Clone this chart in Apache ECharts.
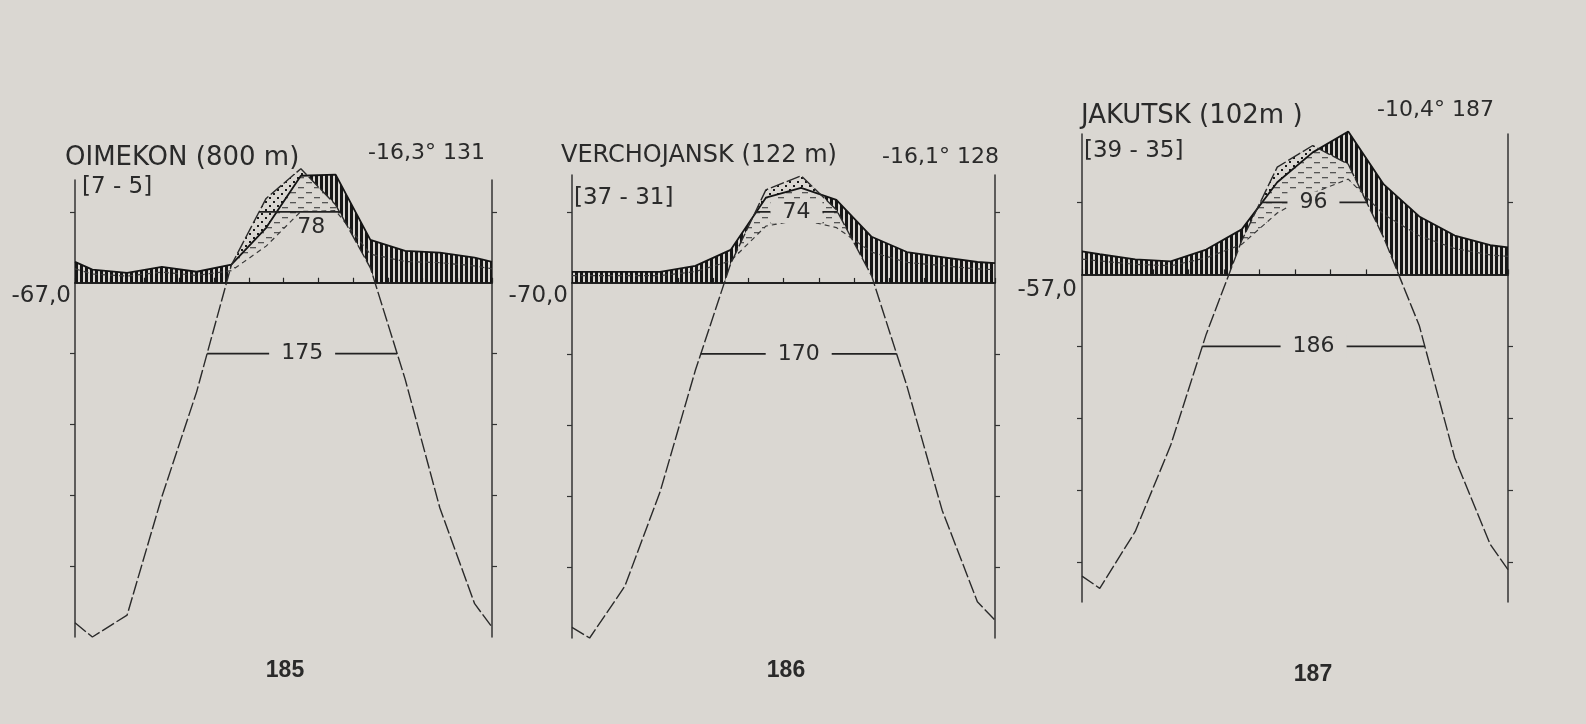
<!DOCTYPE html>
<html><head><meta charset="utf-8">
<script src="https://cdn.jsdelivr.net/npm/echarts@6/dist/echarts.min.js"></script>
<style>html,body{margin:0;padding:0;background:#dad7d2;}#c{width:1586px;height:724px;}</style>
</head><body><div id="c"></div>
<script>
// ---------- data ----------
// x positions in months: chart edges (0, 12) and month middles (Jan..Dec)
const MONTH_X = [0, 0.5, 1.5, 2.5, 3.5, 4.5, 5.5, 6.5, 7.5, 8.5, 9.5, 10.5, 11.5, 12];
// mean temperature, °C
const OIM_T = [-48.0, -50.0, -46.9, -30.2, -15.4, 2.5, 11.9, 16.1, 11.0, 2.1, -13.6, -31.8, -45.3, -48.6];
const VER_T = [-48.5, -50.0, -42.7, -29.4, -12.3, 2.7, 13.1, 15.1, 10.3, 1.0, -14.5, -32.0, -44.9, -47.5];
const JAK_T = [-41.9, -43.6, -35.7, -23.7, -8.3, 4.7, 14.9, 17.9, 15.3, 5.1, -7.1, -25.5, -37.5, -41.0];
// precipitation, mm
const OIM_P = [5.9, 3.7, 2.8, 4.5, 3.1, 5.1, 15.5, 30.2, 30.5, 12.1, 9.0, 8.5, 7.1, 5.9];
const VER_P = [3.1, 3.1, 3.1, 3.1, 4.8, 9.3, 24.0, 26.8, 23.4, 13.0, 8.7, 7.3, 5.9, 5.6];
const JAK_P = [6.4, 5.6, 4.2, 3.6, 6.9, 12.5, 25.6, 33.9, 39.7, 25.0, 16.1, 10.8, 8.1, 7.5];
// texts
const TITLES = ['OIMEKON (800 m)', 'VERCHOJANSK (122 m)', 'JAKUTSK (102m )'];
const YEARS = ['[7 - 5]', '[37 - 31]', '[39 - 35]'];
const ANNUAL = ['-16,3° 131', '-16,1° 128', '-10,4° 187'];
const ABS_MIN = ['-67,0', '-70,0', '-57,0'];
const FIG_NO = ['185', '186', '187'];
const DAYS_ABOVE_10 = ['78', '74', '96'];
const DAYS_ABOVE_M10 = ['175', '170', '186'];
const TICK_T = [-40, -30, -20, -10, 10];
// Walter scales: 10 °C = 20 mm, supplementary curve 10 °C = 30 mm
const MM_PER_DEG = 2, MM_PER_DEG_RED = 3;

const TEMPS = [OIM_T, VER_T, JAK_T];
const PRECS = [OIM_P, VER_P, JAK_P];

// ---------- layout / style ----------
const BG = '#dad7d2', INK = '#222';
const LAYOUT = [
  {left: 75, top: 180, width: 417, height: 457, tMin: -50, tMax: 14.5, titleSize: 26,
   title: [65, 158], years: [82, 187], annual: [368, 153], absMin: [71, 296], fig: [285, 671], warmBelow: true},
  {left: 572, top: 175, width: 423, height: 463, tMin: -50, tMax: 15.2, titleSize: 24,
   title: [561, 156], years: [574, 198], annual: [882, 157], absMin: [568, 296], fig: [786, 671], warmBelow: false},
  {left: 1082, top: 134, width: 426, height: 468, tMin: -45.5, tMax: 19.5, titleSize: 26,
   title: [1081, 116], years: [1084, 151], annual: [1377, 110], absMin: [1077, 290], fig: [1313, 675], warmBelow: false}
];

function mkCanvas(w, h, draw) {
  const c = document.createElement('canvas'); c.width = w; c.height = h; draw(c.getContext('2d')); return c;
}
const HATCH = {image: mkCanvas(5, 4, g => { g.fillStyle = '#161616'; g.fillRect(0, 0, 3, 4); }), repeat: 'repeat'};
const DOTS = {image: mkCanvas(8, 8, g => {
  g.fillStyle = BG; g.fillRect(0, 0, 8, 8); g.fillStyle = '#1a1a1a';
  g.fillRect(1, 1, 2, 2); g.fillRect(5, 5, 2, 2);
}), repeat: 'repeat'};
const DASHES = {image: mkCanvas(16, 10, g => {
  g.fillStyle = '#555'; g.fillRect(2, 2, 6, 1.3); g.fillRect(10, 7, 6, 1.3);
}), repeat: 'repeat'};

// regions where hi > lo, as polygons in data space
function bands(xs, lo, hi) {
  const polys = []; let cur = null;
  for (let i = 0; i < xs.length; i++) {
    const d = hi[i] - lo[i];
    if (i > 0) {
      const dp = hi[i - 1] - lo[i - 1];
      if ((dp > 0) !== (d > 0) && dp !== d) {
        const t = dp / (dp - d);
        const x = xs[i - 1] + t * (xs[i] - xs[i - 1]);
        const y = lo[i - 1] + t * (lo[i] - lo[i - 1]);
        if (cur) { cur.push({x, lo: y, hi: y}); polys.push(cur); cur = null; }
        else cur = [{x, lo: y, hi: y}];
      }
    }
    if (d > 0) { if (!cur) cur = []; cur.push({x: xs[i], lo: lo[i], hi: hi[i]}); }
  }
  if (cur) polys.push(cur);
  return polys.map(s => s.map(p => [p.x, p.hi]).concat(s.slice().reverse().map(p => [p.x, p.lo])));
}
function clipAbove(poly, y0) {
  const out = [];
  for (let i = 0; i < poly.length; i++) {
    const a = poly[i], b = poly[(i + 1) % poly.length];
    const ain = a[1] >= y0, bin = b[1] >= y0;
    if (ain) out.push(a);
    if (ain !== bin) { const t = (y0 - a[1]) / (b[1] - a[1]); out.push([a[0] + t * (b[0] - a[0]), y0]); }
  }
  return out;
}
function crossings(xs, ys, L) {
  const r = [];
  for (let i = 1; i < xs.length; i++) {
    if ((ys[i - 1] - L) * (ys[i] - L) < 0)
      r.push(xs[i - 1] + (L - ys[i - 1]) / (ys[i] - ys[i - 1]) * (xs[i] - xs[i - 1]));
  }
  return r;
}
const zip = (xs, ys) => xs.map((x, i) => [x, ys[i]]);

const grids = [], xAxes = [], yAxes = [], series = [], graphics = [];
const TXT = "'DejaVu Sans', sans-serif";

LAYOUT.forEach((L, k) => {
  const T = TEMPS[k], P = PRECS[k];
  grids.push({left: L.left, top: L.top, width: L.width, height: L.height});
  xAxes.push({type: 'value', gridIndex: k, min: 0, max: 12, interval: 1,
    axisLine: {onZero: true, onZeroAxisIndex: 3 * k, lineStyle: {color: INK, width: 2}},
    axisTick: {inside: true, length: 5, lineStyle: {color: INK, width: 1.2}},
    axisLabel: {show: false}, splitLine: {show: false}});
  const yBase = {type: 'value', gridIndex: k, axisLabel: {show: false}, splitLine: {show: false}};
  yAxes.push(Object.assign({}, yBase, {position: 'left', min: L.tMin, max: L.tMax,
    axisLine: {show: true, onZero: false, lineStyle: {color: '#333', width: 1.5}},
    axisTick: {show: true, customValues: TICK_T, length: 5, lineStyle: {color: '#333', width: 1.2}}}));
  yAxes.push(Object.assign({}, yBase, {position: 'right', min: L.tMin * MM_PER_DEG, max: L.tMax * MM_PER_DEG,
    axisLine: {show: true, onZero: false, lineStyle: {color: '#333', width: 1.5}},
    axisTick: {show: true, customValues: TICK_T.map(v => v * MM_PER_DEG), length: 5, lineStyle: {color: '#333', width: 1.2}}}));
  yAxes.push(Object.assign({}, yBase, {show: false, min: L.tMin * MM_PER_DEG_RED, max: L.tMax * MM_PER_DEG_RED}));

  const Pt = P.map(v => v / MM_PER_DEG);
  const Pr = P.map(v => v / MM_PER_DEG_RED);
  const dashPolys = bands(MONTH_X, Pr, T);
  const hatchPolys = bands(MONTH_X, T, Pt).map(p => clipAbove(p, 0)).filter(p => p.length > 2);
  const dotPolys = bands(MONTH_X, Pt, T);

  series.push({type: 'custom', coordinateSystem: 'cartesian2d', xAxisIndex: k, yAxisIndex: 3 * k,
    data: [[0, 0]], clip: false, silent: true, z: 2,
    renderItem: (params, api) => {
      const px = poly => poly.map(p => api.coord(p));
      const ch = [];
      dashPolys.forEach(p => ch.push({type: 'polygon', shape: {points: px(p)}, style: {fill: DASHES}}));
      hatchPolys.forEach(p => ch.push({type: 'polygon', shape: {points: px(p)}, style: {fill: HATCH}}));
      dotPolys.forEach(p => ch.push({type: 'polygon', shape: {points: px(p)}, style: {fill: DOTS}}));
      return {type: 'group', children: ch};
    }});
  series.push({type: 'line', xAxisIndex: k, yAxisIndex: 3 * k + 2, data: zip(MONTH_X, P),
    showSymbol: false, silent: true, clip: false, z: 3,
    lineStyle: {color: '#3a3a3a', width: 1.2, type: [5, 4]}});
  series.push({type: 'line', xAxisIndex: k, yAxisIndex: 3 * k + 1, data: zip(MONTH_X, P),
    showSymbol: false, silent: true, clip: false, z: 4,
    lineStyle: {color: '#141414', width: 1.8}});
  series.push({type: 'line', xAxisIndex: k, yAxisIndex: 3 * k, data: zip(MONTH_X, T),
    showSymbol: false, silent: true, clip: false, z: 4,
    lineStyle: {color: '#2a2a2a', width: 1.4, type: [14, 3]}});
  // day-count brackets at +10 °C and -10 °C
  const brackets = [{level: 10, label: DAYS_ABOVE_10[k], below: L.warmBelow}, {level: -10, label: DAYS_ABOVE_M10[k], below: false}];
  series.push({type: 'custom', coordinateSystem: 'cartesian2d', xAxisIndex: k, yAxisIndex: 3 * k,
    data: [[0, 0]], clip: false, silent: true, z: 6,
    renderItem: (params, api) => {
      const ch = [];
      brackets.forEach(b => {
        const cx = crossings(MONTH_X, T, b.level);
        const a = api.coord([cx[0], b.level]), c = api.coord([cx[cx.length - 1], b.level]);
        ch.push({type: 'line', shape: {x1: a[0], y1: a[1], x2: c[0], y2: c[1]}, style: {stroke: INK, lineWidth: 1.8}});
        ch.push({type: 'text', x: (a[0] + c[0]) / 2 + (b.below ? 12 : 0), y: a[1] + (b.below ? 15 : 0),
          style: {text: b.label, font: '22px ' + TXT, fill: '#2a2a2a', textAlign: 'center', textVerticalAlign: 'middle',
            backgroundColor: b.below ? 'transparent' : BG, padding: [0, 12]}});
      });
      return {type: 'group', children: ch};
    }});

  const t = (txt, pos, font, align) => graphics.push({type: 'text', x: pos[0], y: pos[1], silent: true, z: 10,
    style: {text: txt, font: font, fill: '#2a2a2a', textAlign: align || 'left', textVerticalAlign: 'middle'}});
  t(TITLES[k], L.title, L.titleSize + 'px ' + TXT);
  t(YEARS[k], L.years, '23px ' + TXT);
  t(ANNUAL[k], L.annual, '22px ' + TXT);
  t(ABS_MIN[k], L.absMin, '23px ' + TXT, 'right');
  t(FIG_NO[k], L.fig, "bold 23px 'Liberation Sans Narrow', 'Liberation Sans', sans-serif", 'center');
});

const chart = echarts.init(document.getElementById('c'), null, {renderer: 'canvas'});
chart.setOption({
  backgroundColor: BG, animation: false,
  grid: grids, xAxis: xAxes, yAxis: yAxes, series: series, graphic: graphics
});
</script></body></html>
